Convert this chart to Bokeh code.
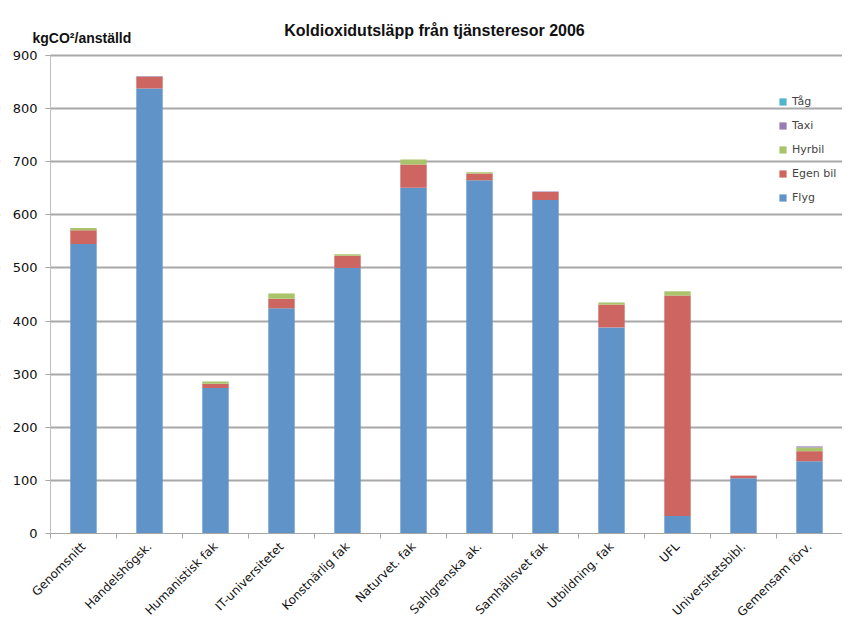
import math
from bokeh.plotting import figure
from bokeh.models import (Range1d, FixedTicker, LinearAxis, Legend, LegendItem,
                          Label, ColumnDataSource, BoxAnnotation)
from bokeh.embed import file_html
from bokeh.resources import INLINE

# ---------------- data ----------------
categories = ["Genomsnitt", "Handelshögsk.", "Humanistisk fak", "IT-universitetet",
              "Konstnärlig fak", "Naturvet. fak", "Sahlgrenska ak.", "Samhällsvet fak",
              "Utbildning. fak", "UFL", "Universitetsbibl.", "Gemensam förv."]
flyg     = [545, 838, 274, 424, 500, 651, 665, 628, 388, 33, 104, 136]
egen_bil = [26, 22, 8, 18, 23, 44, 13, 15, 43, 415, 5, 19]
hyrbil   = [4, 0.5, 4, 10, 3, 9, 2, 0, 4, 8, 0, 7]
taxi     = [0, 1, 0, 0, 0, 0, 0, 1, 0, 0, 0, 2]
tag      = [0, 0, 0, 0, 0, 0, 0, 0, 0, 0, 0, 0]
series_names = ["Flyg", "Egen bil", "Hyrbil", "Taxi", "Tåg"]
series_colors = ["#6094C9", "#CD6660", "#AAC46C", "#967DB4", "#50B4CD"]
y_ticks = [0, 100, 200, 300, 400, 500, 600, 700, 800, 900]
title_text = "Koldioxidutsläpp från tjänsteresor 2006"
y_label_text = "kgCO²/anställd"

FONT = "DejaVu Sans"
TFONT = "Liberation Sans"

W, H = 842, 621
# plot area of the original chart, in pixels
AX_LEFT, AX_BOTTOM, AX_TOP = 50, 533, 55
n = len(categories)
PX_X = (W - AX_LEFT) / n                     # pixels per category
PX_Y = (AX_BOTTOM - AX_TOP) / y_ticks[-1]    # pixels per kg

centers = [i + 0.5 for i in range(n)]
boundaries = [float(i) for i in range(n + 1)]
src = ColumnDataSource(dict(x=centers, Flyg=flyg, **{"Egen bil": egen_bil},
                            Hyrbil=hyrbil, Taxi=taxi, **{"Tåg": tag}))

p = figure(width=W, height=H, output_backend="svg", toolbar_location=None,
           x_range=Range1d(-AX_LEFT / PX_X, n),
           y_range=Range1d(-(H - AX_BOTTOM) / PX_Y, AX_BOTTOM / PX_Y),
           min_border_left=0, min_border_right=0, min_border_top=0,
           min_border_bottom=0, x_axis_location=None, y_axis_location=None)
p.outline_line_color = None
p.background_fill_color = "white"
p.border_fill_color = "white"

renderers = p.vbar_stack(series_names, x="x", width=0.4, source=src,
                         color=series_colors, line_color=None)

# gridlines only right of the value axis
p.ygrid.ticker = FixedTicker(ticks=y_ticks[1:])
p.ygrid.grid_line_color = "#A8A8A8"
p.ygrid.grid_line_width = 2
p.xgrid.grid_line_color = None
p.add_layout(BoxAnnotation(right=0, fill_color="white", fill_alpha=1.0,
                           line_color=None, level="glyph"))

# y axis at x = 0
y_axis = LinearAxis(fixed_location=0, ticker=FixedTicker(ticks=y_ticks), bounds=(0, 900),
                    axis_line_color="#BFBFBF", major_tick_line_color="#A6A6A6",
                    major_tick_out=5, major_tick_in=0, minor_tick_line_color=None,
                    major_label_text_font=FONT, major_label_text_font_size="13px",
                    major_label_text_color="#111111", major_label_standoff=8)
p.add_layout(y_axis, "left")

# x axis at y = 0: labels at category centres, tick marks at boundaries
x_axis = LinearAxis(fixed_location=0, bounds=(0, n),
                    ticker=FixedTicker(ticks=centers, minor_ticks=boundaries),
                    major_label_overrides={c: name for c, name in zip(centers, categories)},
                    major_label_orientation=math.pi / 4,
                    major_label_text_font=FONT, major_label_text_font_size="12px",
                    major_label_text_color="#111111", major_label_standoff=6,
                    axis_line_color="#A6A6A6", major_tick_line_color=None,
                    major_tick_out=0, major_tick_in=0,
                    minor_tick_line_color="#A6A6A6", minor_tick_out=5, minor_tick_in=0)
p.add_layout(x_axis, "below")

# title and unit label
p.add_layout(Label(x=(434 - AX_LEFT) / PX_X, y=(AX_BOTTOM - 30) / PX_Y, text=title_text,
                   text_align="center", text_baseline="middle", text_font=TFONT,
                   text_font_style="bold", text_font_size="16px", text_color="#111111"))
p.add_layout(Label(x=(32 - AX_LEFT) / PX_X, y=(AX_BOTTOM - 37) / PX_Y, text=y_label_text,
                   text_align="left", text_baseline="middle", text_font=TFONT,
                   text_font_style="bold", text_font_size="14px", text_color="#111111"))

# legend (reverse order like Excel)
items = [LegendItem(label=name, renderers=[r]) for name, r in
         reversed(list(zip(series_names, renderers)))]
legend = Legend(items=items, location=(778, H - 204), glyph_width=9, glyph_height=9,
                label_text_font=FONT, label_text_font_size="11px", label_height=12,
                spacing=11, padding=0, margin=0, label_standoff=5,
                background_fill_alpha=0, border_line_alpha=0)
p.add_layout(legend)

open("out.html", "w").write(file_html(p, INLINE))
